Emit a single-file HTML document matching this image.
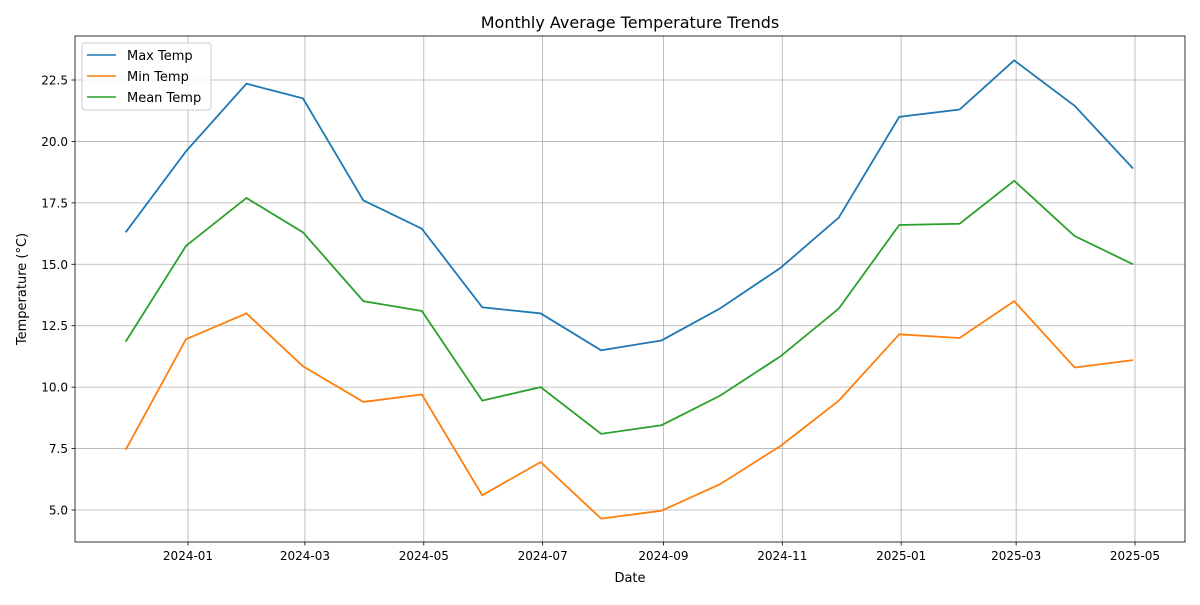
<!DOCTYPE html>
<html><head><meta charset="utf-8"><style>
body{margin:0;background:#fff;}
svg text{font-family:"DejaVu Sans","Liberation Sans",sans-serif;}
</style></head><body>
<svg id="chart" width="1200" height="600" xmlns="http://www.w3.org/2000/svg">
<rect width="1200" height="600" fill="#fff"/>
<g id="grid"></g>
<g id="series"></g>
<rect x="75" y="36" width="1110" height="506" fill="none" stroke="#000" stroke-width="0.8"/>
<g id="ticks"></g>
<text x="630" y="28" font-size="16" text-anchor="middle">Monthly Average Temperature Trends</text>
<text x="630" y="582" font-size="13" text-anchor="middle">Date</text>
<text x="26" y="289" font-size="13" text-anchor="middle" transform="rotate(-90 26 289)">Temperature (°C)</text>
<g>
<rect x="82" y="43" width="129" height="67" rx="3" fill="#fff" fill-opacity="0.8" stroke="#ccc"/>
<line x1="87" y1="55" x2="116" y2="55" stroke="#1f77b4" stroke-width="1.5"/>
<text x="127" y="60" font-size="13">Max Temp</text>
<line x1="87" y1="76" x2="116" y2="76" stroke="#ff7f0e" stroke-width="1.5"/>
<text x="127" y="81" font-size="13">Min Temp</text>
<line x1="87" y1="97" x2="116" y2="97" stroke="#2ca02c" stroke-width="1.5"/>
<text x="127" y="102" font-size="13">Mean Temp</text>
</g>
</svg>
<script>
const dates=["2023-11-30","2023-12-31","2024-01-31","2024-02-29","2024-03-31","2024-04-30","2024-05-31","2024-06-30","2024-07-31","2024-08-31","2024-09-30","2024-10-31","2024-11-30","2024-12-31","2025-01-31","2025-02-28","2025-03-31","2025-04-30"];
const maxTemp=[16.3,19.6,22.35,21.75,17.6,16.45,13.25,13.0,11.5,11.9,13.2,14.85,16.9,21.0,21.3,23.3,21.45,18.9];
const minTemp=[7.45,11.95,13.0,10.85,9.4,9.7,5.6,6.95,4.65,4.97,6.05,7.6,9.45,12.15,12.0,13.5,10.8,11.1];
const meanTemp=[11.85,15.75,17.7,16.3,13.5,13.1,9.45,10.0,8.1,8.45,9.65,11.25,13.2,16.6,16.65,18.4,16.15,15.0];
const xTicks=["2024-01","2024-03","2024-05","2024-07","2024-09","2024-11","2025-01","2025-03","2025-05"];
const yTicks=[5.0,7.5,10.0,12.5,15.0,17.5,20.0,22.5];
const NS="http://www.w3.org/2000/svg";
const t0=Date.parse("2024-01-01"),t1=Date.parse("2025-05-01");
function xs(d){const t=Date.parse(d.length==7?d+"-01":d);return 188+(t-t0)/(t1-t0)*947;}
function ys(v){return 510-(v-5)/17.5*430;}
const grid=document.getElementById('grid'),ticks=document.getElementById('ticks'),ser=document.getElementById('series');
function mk(tag,attrs,parent){const e=document.createElementNS(NS,tag);for(const k in attrs)e.setAttribute(k,attrs[k]);parent.appendChild(e);return e;}
xTicks.forEach(l=>{const x=xs(l);
const g=mk('line',{x1:x,x2:x,y1:36,y2:542,stroke:'#b0b0b0','stroke-width':0.8},grid);


mk('line',{x1:x,x2:x,y1:542,y2:545.5,stroke:'#000','stroke-width':0.8},ticks);
const t=mk('text',{x:x,y:560,'font-size':12,'text-anchor':'middle'},ticks);t.textContent=l;

});
yTicks.forEach(v=>{const y=ys(v);
const g=mk('line',{x1:75,x2:1185,y1:y,y2:y,stroke:'#b0b0b0','stroke-width':0.8},grid);


mk('line',{x1:71.5,x2:75,y1:y,y2:y,stroke:'#000','stroke-width':0.8},ticks);
const t=mk('text',{x:68,y:y+4.5,'font-size':12,'text-anchor':'end'},ticks);t.textContent=v.toFixed(1);

});
[[maxTemp,'#1f77b4','max-temp-line'],[minTemp,'#ff7f0e','min-temp-line'],[meanTemp,'#2ca02c','mean-temp-line']].forEach(([arr,c,n])=>{
const p=mk('polyline',{points:arr.map((v,i)=>xs(dates[i])+','+ys(v)).join(' '),fill:'none',stroke:c,'stroke-width':1.8},ser);

});
</script>
</body></html>
